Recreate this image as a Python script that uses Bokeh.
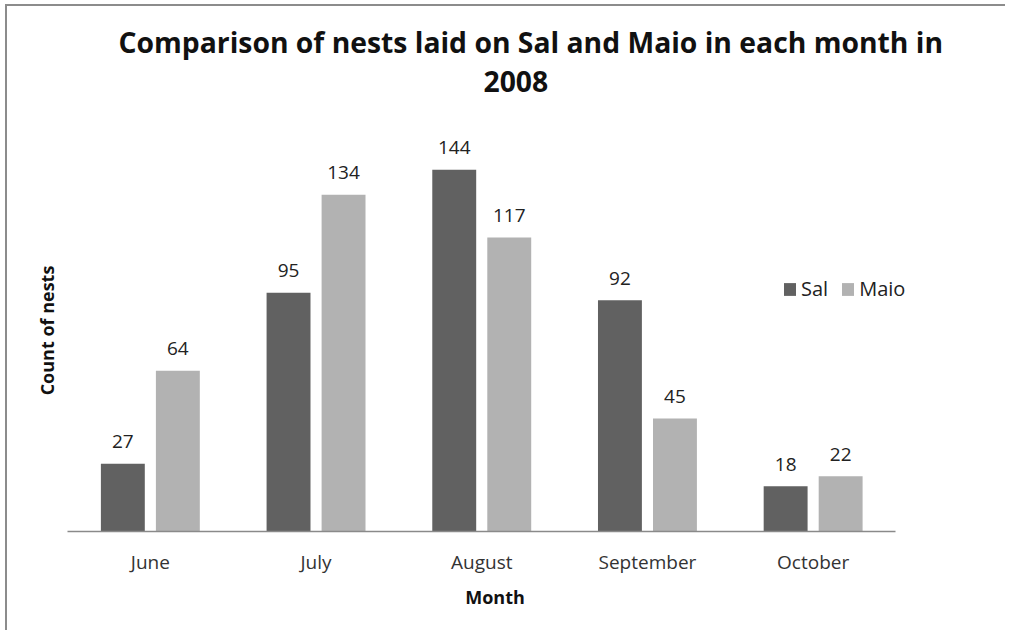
from bokeh.plotting import figure
from bokeh.models import ColumnDataSource, Range1d, Legend, LegendItem, Title, FixedTicker
from bokeh.transform import dodge
from bokeh.core.properties import value
from bokeh.embed import file_html
from bokeh.resources import INLINE

months = ["June", "July", "August", "September", "October"]
sal = [27, 95, 144, 92, 18]
maio = [64, 134, 117, 45, 22]

FONT = "Open Sans"
xpos = [i + 0.5 for i in range(len(months))]
src = ColumnDataSource(dict(x=xpos, month=months, sal=sal, maio=maio,
                            sal_t=[str(v) for v in sal], maio_t=[str(v) for v in maio]))

p = figure(x_range=Range1d(0, len(months) + 0.16), y_range=Range1d(0, 160),
           width=1000, height=626, output_backend="svg", toolbar_location=None,
           min_border_left=60, min_border_right=85, min_border_top=123, min_border_bottom=101)
p.title = None
p.add_layout(Title(text="2008", align="left", text_font=FONT, text_font_size="28.3px",
                   text_font_style="bold", text_color="#111111", offset=416, standoff=75), "above")
p.add_layout(Title(text="Comparison of nests laid on Sal and Maio in each month in", align="left",
                   text_font=FONT, text_font_size="28.3px", text_font_style="bold",
                   text_color="#111111", offset=51, standoff=-59), "above")

p.outline_line_color = None
p.grid.visible = False

r1 = p.vbar(x=dodge("x", -0.166), top="sal", width=0.265, source=src,
            fill_color="#616161", line_color=None)
r2 = p.vbar(x=dodge("x", 0.166), top="maio", width=0.265, source=src,
            fill_color="#b2b2b2", line_color=None)

p.text(x=dodge("x", -0.166), y="sal", text="sal_t", source=src,
       text_align="center", text_baseline="alphabetic", y_offset=-22,
       text_font=value(FONT), text_font_size="19px", text_color="#222222")
p.text(x=dodge("x", 0.166), y="maio", text="maio_t", source=src,
       text_align="center", text_baseline="alphabetic", y_offset=-22,
       text_font=value(FONT), text_font_size="19px", text_color="#222222")

xa = p.xaxis[0]
xa.ticker = FixedTicker(ticks=xpos)
xa.major_label_overrides = {x: m for x, m in zip(xpos, months)}
xa.bounds = (0, len(months))
xa.axis_line_color = "#8a8a8a"
xa.axis_line_width = 1.5
xa.major_tick_line_color = None
xa.minor_tick_line_color = None
xa.major_label_text_font = FONT
xa.major_label_text_font_size = "19px"
xa.major_label_text_color = "#333333"
xa.major_label_standoff = 11
xa.axis_label = "Month"
xa.axis_label_text_font = FONT
xa.axis_label_text_font_size = "18px"
xa.axis_label_text_font_style = "bold"
xa.axis_label_text_color = "#111111"
xa.axis_label_standoff = 7

ya = p.yaxis[0]
ya.ticker = FixedTicker(ticks=[])
ya.axis_line_color = None
ya.major_tick_line_color = None
ya.minor_tick_line_color = None
ya.major_label_standoff = 0
ya.axis_label = "Count of nests"
ya.axis_label_text_font = FONT
ya.axis_label_text_font_size = "18px"
ya.axis_label_text_font_style = "bold"
ya.axis_label_text_color = "#111111"
ya.axis_label_standoff = 9

legend = Legend(items=[LegendItem(label="Sal", renderers=[r1]), LegendItem(label="Maio", renderers=[r2])],
                orientation="horizontal", location=(715, 229), padding=0, margin=0,
                border_line_color=None, background_fill_alpha=0,
                glyph_width=15, glyph_height=16, label_height=20, label_standoff=4, spacing=12,
                label_text_font=FONT, label_text_font_size="20px", label_text_color="#222222")
p.add_layout(legend, "center")

p.styles = {"border-left": "2px solid #8c8c8c", "border-top": "2px solid #8c8c8c",
            "margin-left": "5px", "margin-top": "4px"}

open("out.html", "w").write(file_html(p, INLINE))
